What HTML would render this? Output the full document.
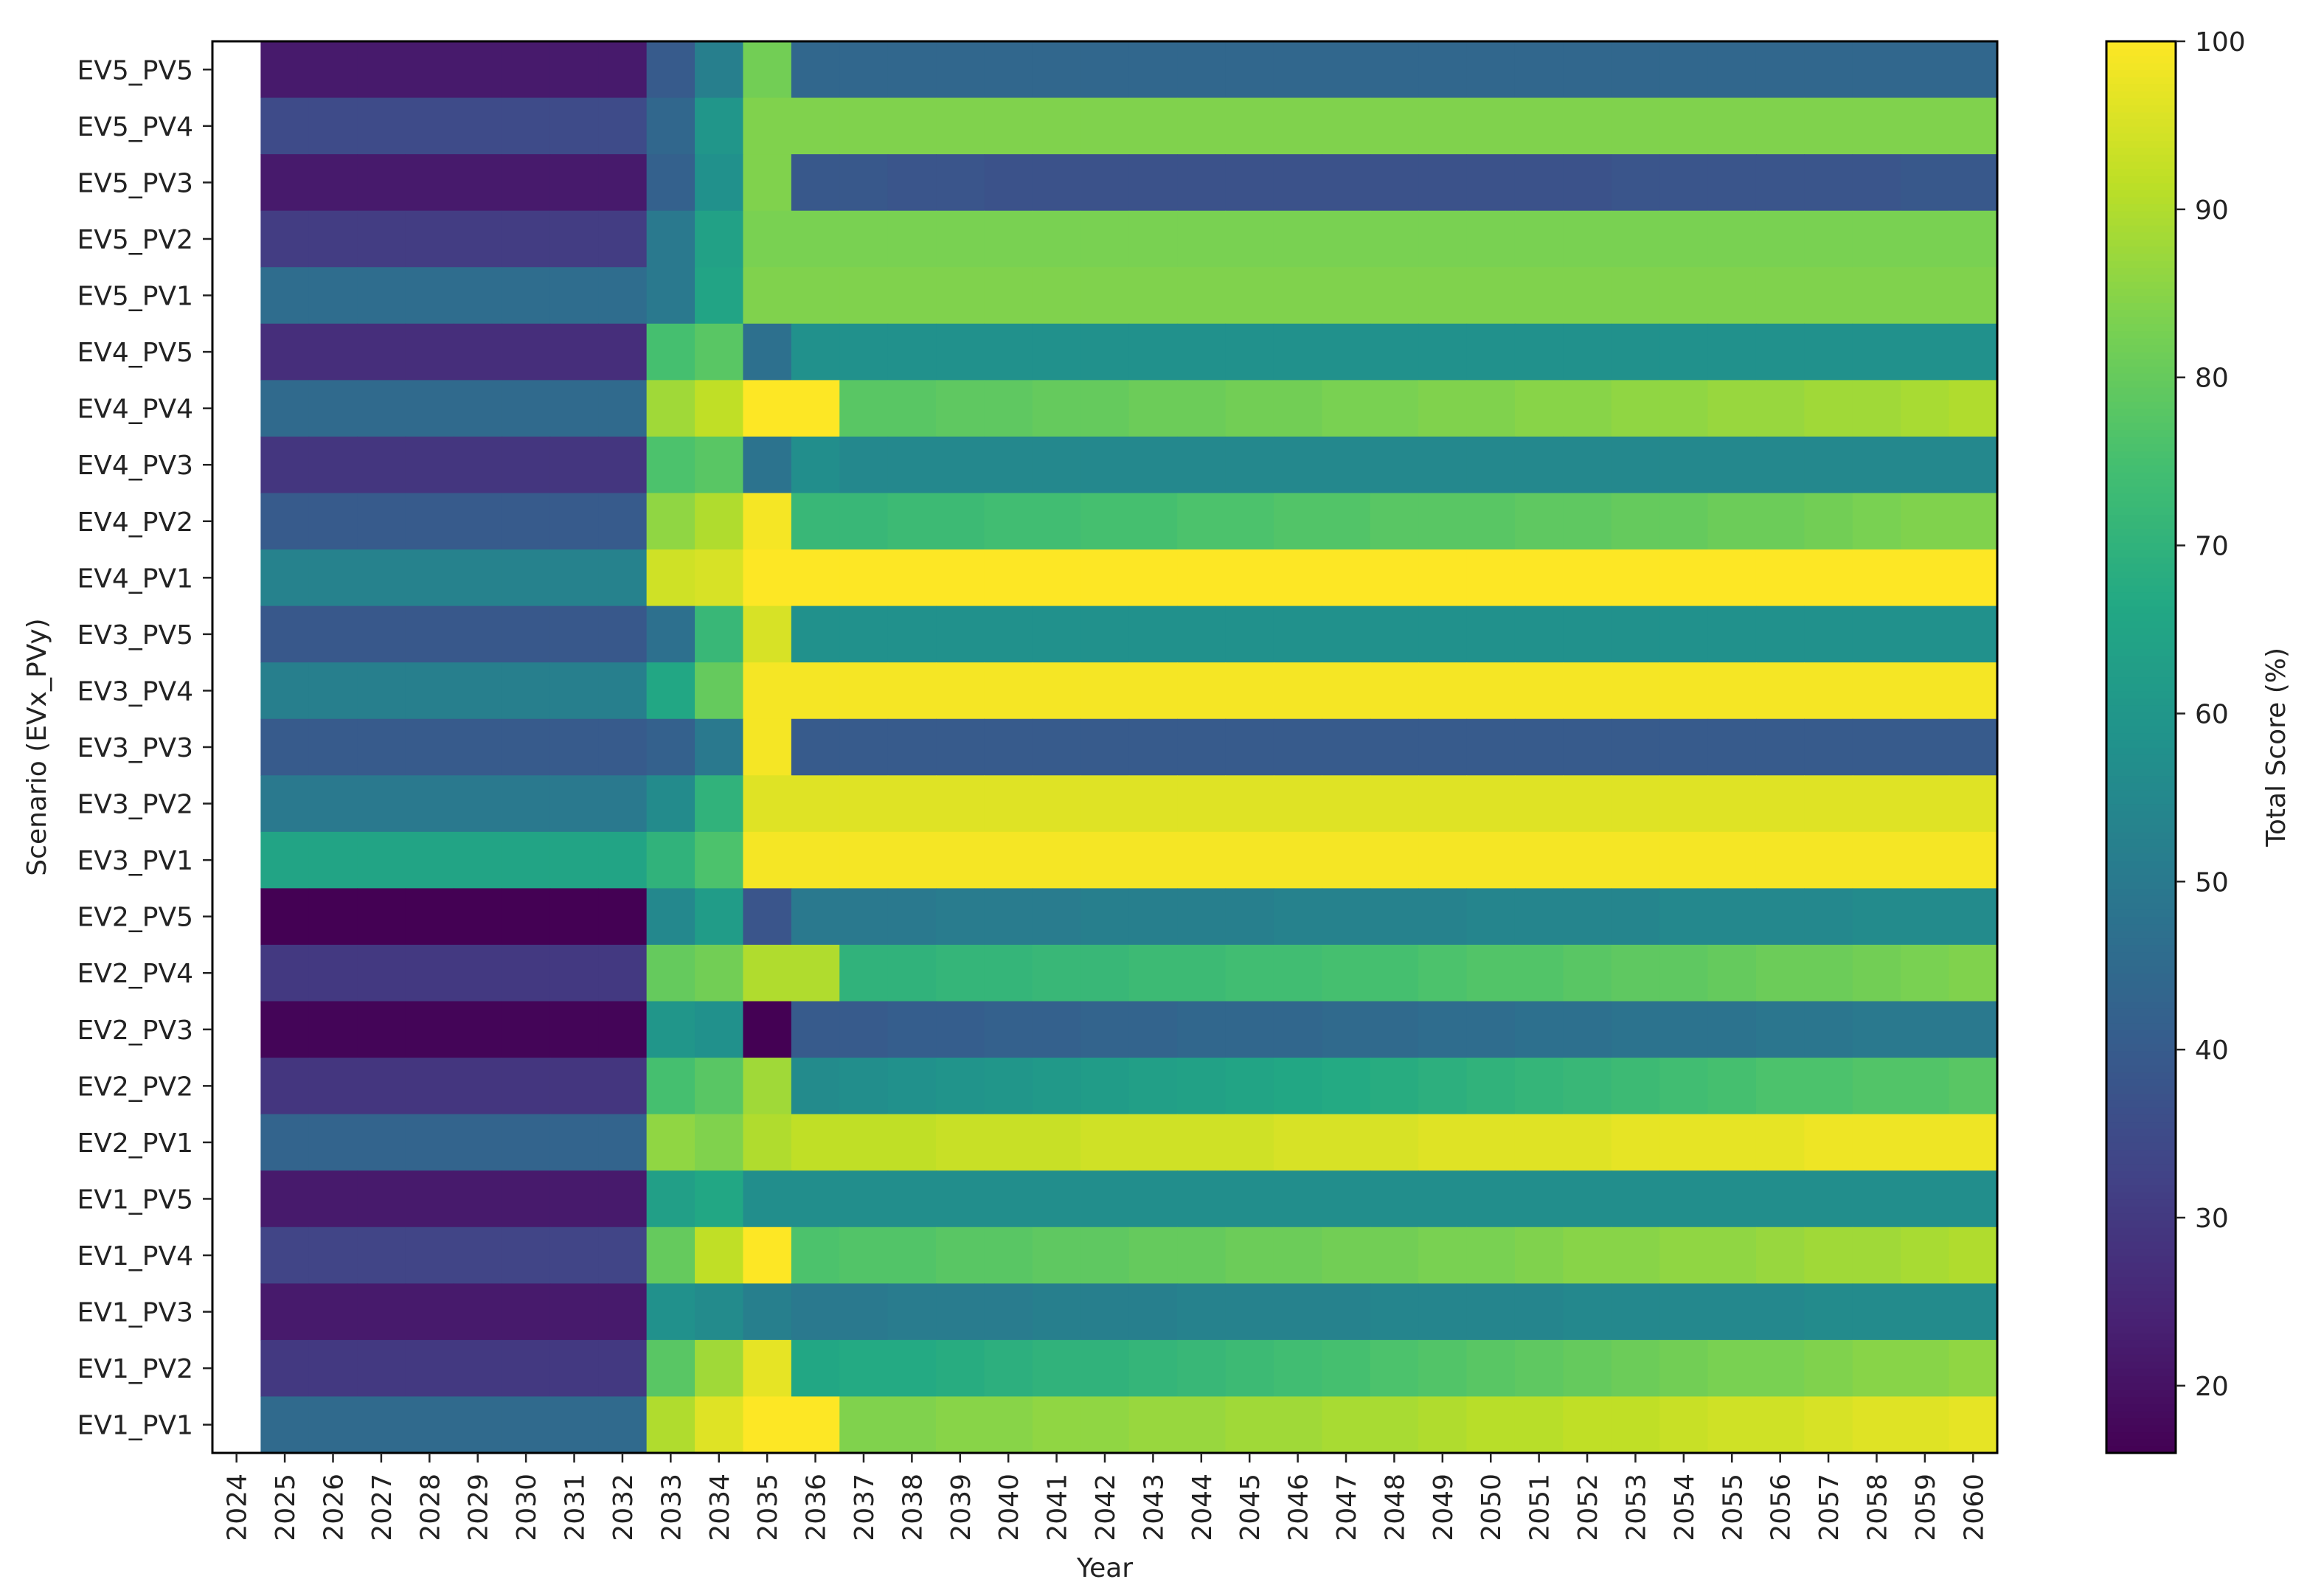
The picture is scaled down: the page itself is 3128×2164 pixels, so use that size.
<!DOCTYPE html>
<html><head><meta charset="utf-8"><style>
html,body{margin:0;padding:0;background:#fff;}
svg{display:block;}
text{font-family:"DejaVu Sans","Liberation Sans",sans-serif;fill:#222;}
</style></head><body>
<svg id="chart" width="3128" height="2164" viewBox="0 0 3128 2164" xmlns="http://www.w3.org/2000/svg">
<g id="cells"></g>
<g id="axes"></g>
<g id="cbar"></g>
</svg>
<script>
const N = null;
const years = [2024,2025,2026,2027,2028,2029,2030,2031,2032,2033,2034,2035,2036,2037,2038,2039,2040,2041,2042,2043,2044,2045,2046,2047,2048,2049,2050,2051,2052,2053,2054,2055,2056,2057,2058,2059,2060];
const scenarios = ["EV5_PV5","EV5_PV4","EV5_PV3","EV5_PV2","EV5_PV1","EV4_PV5","EV4_PV4","EV4_PV3","EV4_PV2","EV4_PV1","EV3_PV5","EV3_PV4","EV3_PV3","EV3_PV2","EV3_PV1","EV2_PV5","EV2_PV4","EV2_PV3","EV2_PV2","EV2_PV1","EV1_PV5","EV1_PV4","EV1_PV3","EV1_PV2","EV1_PV1"];
const ev5_pv5 = [N,22,22,22,22,22,22,22,22,40,52,82,44,44,44,44,44,44,44,44,44,44,44,44,44,44,44,44,44,44,44,44,44,44,44,44,44];
const ev5_pv4 = [N,35,35,35,35,35,35,35,35,44,60,84,84,84,84,84,84,84,84,84,84,84,84,84,84,84,84,84,84,84,84,84,84,84,84,84,84];
const ev5_pv3 = [N,22,22,22,22,22,22,22,22,42,58,84,39,39,38,38,37,37,37,37,37,37,37,37,37,37,37,37,37,38,38,38,38,38,38,39,39];
const ev5_pv2 = [N,31,31,31,31,31,31,31,31,50,64,83,83,83,83,83,83,83,83,83,83,83,83,83,83,83,83,83,83,83,83,83,83,83,83,83,83];
const ev5_pv1 = [N,46,46,46,46,46,46,46,46,50,65,84,84,84,84,84,84,84,84,84,84,84,84,84,84,84,84,84,84,84,84,84,84,84,84,84,84];
const ev4_pv5 = [N,27,27,27,27,27,27,27,27,75,78,47,58,58,58,58,58,58,58,58,58,58,58,58,58,58,58,58,58,58,58,58,58,58,58,58,58];
const ev4_pv4 = [N,45,45,45,45,45,45,45,45,88,92,100,100,78,78,79,79,80,80,81,81,82,82,83,83,84,84,85,85,86,86,87,87,88,88,89,90];
const ev4_pv3 = [N,29,29,29,29,29,29,29,29,76,78,48,57,55,55,55,55,55,55,55,55,55,55,55,55,55,55,55,55,55,55,55,55,55,55,55,55];
const ev4_pv2 = [N,40,40,40,40,40,40,40,40,86,90,99,72,72,73,73,74,74,75,75,76,76,77,77,78,78,78,79,79,80,80,81,81,82,83,84,84];
const ev4_pv1 = [N,53,53,53,53,53,53,53,53,94,95,100,100,100,100,100,100,100,100,100,100,100,100,100,100,100,100,100,100,100,100,100,100,100,100,100,100];
const ev3_pv5 = [N,39,39,39,39,39,39,39,39,47,72,95,58,58,58,58,58,58,58,58,58,58,58,58,58,58,58,58,58,58,58,58,58,58,58,58,58];
const ev3_pv4 = [N,52,52,52,52,52,52,52,52,66,80,99,99,99,99,99,99,99,99,99,99,99,99,99,99,99,99,99,99,99,99,99,99,99,99,99,99];
const ev3_pv3 = [N,40,40,40,40,40,40,40,40,42,50,99,40,40,40,40,40,40,40,40,40,40,40,40,40,40,40,40,40,40,40,40,40,40,40,40,40];
const ev3_pv2 = [N,50,50,50,50,50,50,50,50,56,70,96,96,96,96,96,96,96,96,96,96,96,96,96,96,96,96,96,96,96,96,96,96,96,96,96,96];
const ev3_pv1 = [N,65,65,65,65,65,65,65,65,70,76,99,99,99,99,99,99,99,99,99,99,99,99,99,99,99,99,99,99,99,99,99,99,99,99,99,99];
const ev2_pv5 = [N,16,16,16,16,16,16,16,16,55,62,38,50,50,50,51,51,51,52,52,52,52,53,53,53,53,54,54,54,54,55,55,55,55,56,56,56];
const ev2_pv4 = [N,30,30,30,30,30,30,30,30,80,82,90,90,70,70,71,71,72,72,73,73,74,74,75,75,76,77,77,78,79,79,80,81,81,82,83,84];
const ev2_pv3 = [N,17,17,17,17,17,17,17,17,60,58,16,40,40,41,41,42,42,43,43,44,44,44,45,45,46,46,47,47,48,48,48,49,49,50,50,50];
const ev2_pv2 = [N,29,29,29,29,29,29,29,29,75,78,88,56,57,58,59,60,61,62,63,64,65,66,67,68,69,70,71,72,73,74,75,76,76,77,77,78];
const ev2_pv1 = [N,43,43,43,43,43,43,43,43,86,84,90,92,92,92,93,93,93,94,94,94,94,95,95,95,96,96,96,96,97,97,97,97,98,98,98,98];
const ev1_pv5 = [N,22,22,22,22,22,22,22,22,63,66,57,57,57,57,57,57,57,57,57,57,57,57,57,57,57,57,57,57,57,57,57,57,57,57,57,57];
const ev1_pv4 = [N,33,33,33,33,33,33,33,33,80,92,100,76,77,77,78,78,79,79,80,80,81,81,82,82,83,83,84,85,85,86,86,87,88,88,89,90];
const ev1_pv3 = [N,22,22,22,22,22,22,22,22,58,56,52,50,50,51,51,51,52,52,52,53,53,53,53,54,54,54,54,55,55,55,55,55,56,56,56,56];
const ev1_pv2 = [N,30,30,30,30,30,30,30,30,78,88,97,66,67,67,68,69,70,70,71,72,73,74,75,76,77,78,79,80,81,82,83,83,84,85,85,86];
const ev1_pv1 = [N,45,45,45,45,45,45,45,45,90,96,100,100,84,84,85,85,86,86,87,87,88,88,89,89,90,91,91,92,92,93,94,94,95,96,96,97];
const rows = [ev5_pv5,ev5_pv4,ev5_pv3,ev5_pv2,ev5_pv1,ev4_pv5,ev4_pv4,ev4_pv3,ev4_pv2,ev4_pv1,ev3_pv5,ev3_pv4,ev3_pv3,ev3_pv2,ev3_pv1,ev2_pv5,ev2_pv4,ev2_pv3,ev2_pv2,ev2_pv1,ev1_pv5,ev1_pv4,ev1_pv3,ev1_pv2,ev1_pv1];
const cbTicks = [20,30,40,50,60,70,80,90,100];
const vmin = 16, vmax = 100;

const NS = "http://www.w3.org/2000/svg";
const L = 288, R = 2708, T = 56, B = 1970;
const cw = (R - L) / years.length, ch = (B - T) / scenarios.length;
const xPos = i => L + i * cw;
const yPos = j => T + j * ch;
const stops = ["#440154","#482475","#414487","#355f8d","#2a788e","#21918c","#22a884","#44bf70","#7ad151","#bddf26","#fde725"];
function hex(c){return [1,3,5].map(k=>parseInt(c.substr(k,2),16));}
function viridis(v){
  let t = Math.max(0, Math.min(1, (v - vmin) / (vmax - vmin))) * 10;
  const i = Math.min(9, Math.floor(t)), f = t - i;
  const a = hex(stops[i]), b = hex(stops[i+1]);
  return "rgb(" + a.map((x,k)=>Math.round(x + (b[k]-x)*f)).join(",") + ")";
}
function mk(tag, attrs, parent){
  const e = document.createElementNS(NS, tag);
  for (const k in attrs) e.setAttribute(k, attrs[k]);
  parent.appendChild(e);
  return e;
}
const cells = document.getElementById("cells");
rows.forEach((row, j) => {
  row.forEach((v, i) => {
    if (v === null) return;
    const r = mk("rect", {x: xPos(i), y: yPos(j), width: cw + 0.6, height: ch + 0.6, fill: viridis(v)}, cells);
    
    
  });
});
const axes = document.getElementById("axes");
const frame = mk("rect", {x: L, y: T, width: R - L, height: B - T, fill: "none", stroke: "#000", "stroke-width": 3}, axes);


scenarios.forEach((s, j) => {
  const yc = yPos(j) + ch / 2;
  mk("line", {x1: L - 13, x2: L, y1: yc, y2: yc, stroke: "#222", "stroke-width": 2.5}, axes);
  const t = mk("text", {x: L - 26, y: yc + 13, "text-anchor": "end", "font-size": 36}, axes);
  t.textContent = s;
  
  
});
years.forEach((yr, i) => {
  const xc = xPos(i) + cw / 2;
  mk("line", {x1: xc, x2: xc, y1: B, y2: B + 13, stroke: "#222", "stroke-width": 2.5}, axes);
  const t = mk("text", {x: 0, y: 0, "text-anchor": "end", "font-size": 36, transform: "translate(" + (xc + 13) + "," + (B + 28) + ") rotate(-90)"}, axes);
  t.textContent = yr;
  
  
});
const xl = mk("text", {x: (L + R) / 2, y: 2138, "text-anchor": "middle", "font-size": 36}, axes);
xl.textContent = "Year";


const yl = mk("text", {x: 0, y: 0, "text-anchor": "middle", "font-size": 36, transform: "translate(62," + ((T + B) / 2) + ") rotate(-90)"}, axes);
yl.textContent = "Scenario (EVx_PVy)";



const cb = document.getElementById("cbar");
const CX = 2856, CW = 94;
const cy = v => B - (v - vmin) / (vmax - vmin) * (B - T);
for (let k = 0; k < 200; k++) {
  const v0 = vmin + (vmax - vmin) * k / 200, v1 = vmin + (vmax - vmin) * (k + 1) / 200;
  mk("rect", {x: CX, y: cy(v1), width: CW, height: cy(v0) - cy(v1) + 0.8, fill: viridis((v0 + v1) / 2)}, cb);
}
mk("rect", {x: CX, y: T, width: CW, height: B - T, fill: "none", stroke: "#000", "stroke-width": 3}, cb);
cbTicks.forEach(v => {
  const y = cy(v);
  mk("line", {x1: CX + CW, x2: CX + CW + 13, y1: y, y2: y, stroke: "#222", "stroke-width": 2.5}, cb);
  const t = mk("text", {x: CX + CW + 26, y: y + 13, "font-size": 36}, cb);
  t.textContent = v;
  
  
});
const cl = mk("text", {x: 0, y: 0, "text-anchor": "middle", "font-size": 36, transform: "translate(3098," + ((T + B) / 2) + ") rotate(-90)"}, cb);
cl.textContent = "Total Score (%)";


</script>
</body></html>
